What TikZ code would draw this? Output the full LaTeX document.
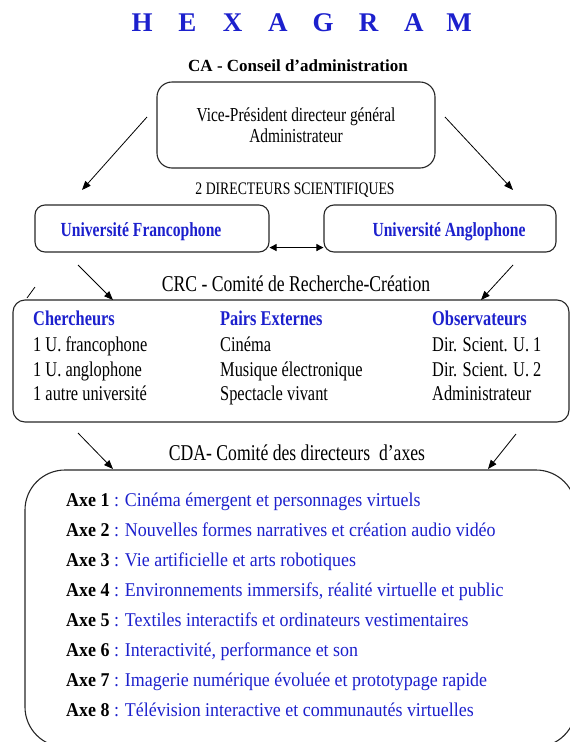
\documentclass[tikz,border=0pt]{standalone}
\usepackage{fontspec}
\setmainfont{Liberation Serif}
\newfontfamily\narrowserif[FakeStretch=0.78]{Liberation Serif}
\newfontfamily\axeserif[FakeStretch=0.92]{Liberation Serif}
\usepackage{tikz}
\usetikzlibrary{arrows.meta,positioning}
\definecolor{hexblue}{RGB}{28,32,205}

\begin{document}
\begin{tikzpicture}[x=1pt,y=-1pt,
    panel/.style={draw=black!85,line width=1.1pt,rounded corners=#1,inner sep=0pt},
    panel/.default=12pt,
    link/.style={line width=0.8pt,-{Triangle[length=9pt,width=7pt]}},
    twolink/.style={line width=0.9pt,{Triangle[length=7pt,width=7pt]}-{Triangle[length=7pt,width=7pt]}},
    title/.style={font=\bfseries\fontsize{17}{20}\selectfont,anchor=base,inner sep=0pt},
    committee/.style={font=\narrowserif\fontsize{22.6}{26}\selectfont,anchor=base,inner sep=0pt},
    unitext/.style={font=\narrowserif\bfseries\fontsize{20}{22}\selectfont,text=hexblue,anchor=base,inner sep=0pt},
    colhead/.style={font=\narrowserif\bfseries\fontsize{21}{24}\selectfont,text=hexblue,anchor=base west,inner sep=0pt},
    colitem/.style={font=\narrowserif\fontsize{21}{24}\selectfont,anchor=base west,inner sep=0pt},
    axe/.style={font=\axeserif\fontsize{19.5}{22}\selectfont,text=hexblue,anchor=base west,inner sep=0pt}]
  \useasboundingbox (0,0) rectangle (570,742);
  \clip (0,0) rectangle (570,742);

  % title
  \foreach \c [count=\i] in {H,E,X,A,G,R,A,M}
    \node[font=\bfseries\fontsize{27}{30}\selectfont,text=hexblue,anchor=base] (hex\i) at ({142+45.3*(\i-1)},31) {\c};

  % conseil d'administration
  \node[title] (caTitle) at (298,71) {CA - Conseil d’administration};
  \node[panel=15pt,minimum width=278pt,minimum height=86pt,align=center,
        font=\narrowserif\fontsize{19.8}{21}\selectfont] (ca) at (296,125)
        {Vice-Président directeur général\\Administrateur};
  \node[font=\narrowserif\fontsize{17.6}{20}\selectfont,anchor=base,inner sep=0pt] (dirSci) at (295,194) {2 DIRECTEURS SCIENTIFIQUES};

  % universities
  \node[panel=10pt,minimum width=234pt,minimum height=47pt] (univF) at (152,228.5) {};
  \node[panel=10pt,minimum width=232pt,minimum height=47pt] (univA) at (440,228.5) {};
  \node[unitext] (univFtxt) at (141,236) {Université Francophone};
  \node[unitext] (univAtxt) at (449,236) {Université Anglophone};
  \draw[twolink] ([yshift=5pt]univF.south east) -- ([yshift=5pt]univA.south west);

  \coordinate (caOutF) at (147,117);
  \coordinate (caInF) at (82,190);
  \coordinate (caOutA) at (445,117);
  \coordinate (caInA) at (513,190);
  \draw[link] (caOutF) -- (caInF);
  \draw[link] (caOutA) -- (caInA);

  % comite de recherche-creation
  \node[committee] (crcTitle) at (296,291) {CRC - Comité de Recherche-Création};
  \node[panel=12pt,minimum width=556pt,minimum height=122pt] (crc) at (291,361) {};
  \draw[line width=0.8pt] (27,298) -- (35,287);

  \coordinate (univOutF) at (78,265);
  \coordinate (crcInF) at (113,300);
  \coordinate (univOutA) at (513,265);
  \coordinate (crcInA) at (481,300);
  \draw[link] (univOutF) -- (crcInF);
  \draw[link] (univOutA) -- (crcInA);

  \node[colhead] (chHead) at (33,325) {Chercheurs};
  \node[colitem] (ch1) at (33,351) {1 U. francophone};
  \node[colitem] (ch2) at (33,376) {1 U. anglophone};
  \node[colitem] (ch3) at (33,400) {1 autre université};
  \node[colhead] (peHead) at (220,325) {Pairs Externes};
  \node[colitem] (pe1) at (220,351) {Cinéma};
  \node[colitem] (pe2) at (220,376) {Musique électronique};
  \node[colitem] (pe3) at (220,400) {Spectacle vivant};
  \node[colhead] (obHead) at (432,325) {Observateurs};
  \node[colitem] (ob1) at (432,351) {Dir. Scient. U. 1};
  \node[colitem] (ob2) at (432,376) {Dir. Scient. U. 2};
  \node[colitem] (ob3) at (432,400) {Administrateur};

  % comite des directeurs d'axes
  \node[committee] (cdaTitle) at (297,460) {CDA- Comité des directeurs~ d’axes};
  \node[panel=40pt,minimum width=551pt,minimum height=277pt] (cda) at (300.5,608.5) {};

  \coordinate (crcOutF) at (78,433);
  \coordinate (cdaInF) at (113,469);
  \coordinate (crcOutA) at (516,434);
  \coordinate (cdaInA) at (488,469);
  \draw[link] (crcOutF) -- (cdaInF);
  \draw[link] (crcOutA) -- (cdaInA);

  \node[axe] (axe1) at (66,506) {\textcolor{black}{\bfseries Axe 1} : Cinéma émergent et personnages virtuels};
  \node[axe] (axe2) at (66,536) {\textcolor{black}{\bfseries Axe 2} : Nouvelles formes narratives et création audio vidéo};
  \node[axe] (axe3) at (66,566) {\textcolor{black}{\bfseries Axe 3} : Vie artificielle et arts robotiques};
  \node[axe] (axe4) at (66,596) {\textcolor{black}{\bfseries Axe 4} : Environnements immersifs, réalité virtuelle et public};
  \node[axe] (axe5) at (66,626) {\textcolor{black}{\bfseries Axe 5} : Textiles interactifs et ordinateurs vestimentaires};
  \node[axe] (axe6) at (66,656) {\textcolor{black}{\bfseries Axe 6} : Interactivité, performance et son};
  \node[axe] (axe7) at (66,686) {\textcolor{black}{\bfseries Axe 7} : Imagerie numérique évoluée et prototypage rapide};
  \node[axe] (axe8) at (66,716) {\textcolor{black}{\bfseries Axe 8} : Télévision interactive et communautés virtuelles};
\end{tikzpicture}
\end{document}
